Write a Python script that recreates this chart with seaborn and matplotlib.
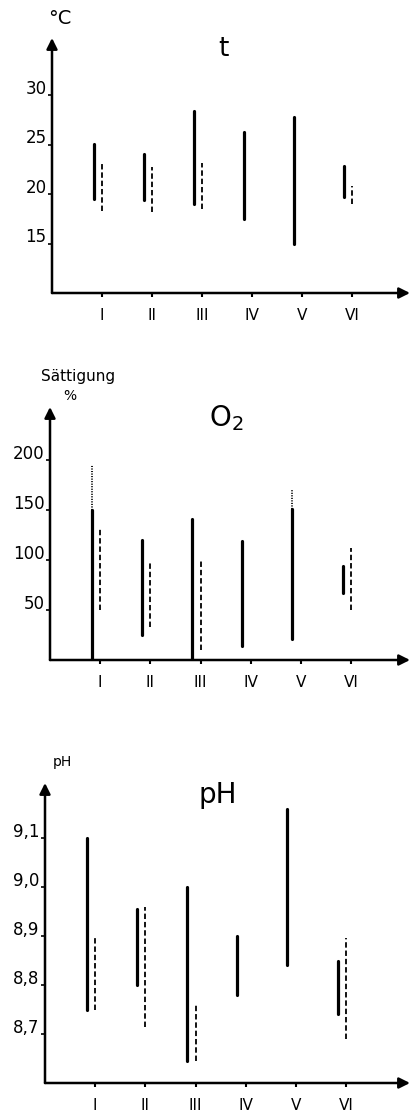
import numpy as np
import pandas as pd
import matplotlib
matplotlib.use("Agg")
import matplotlib.pyplot as plt
from matplotlib.transforms import ScaledTranslation
import seaborn as sns

# ---------------- data ----------------
categories = ["I", "II", "III", "IV", "V", "VI"]

# temperature (°C)
t_solid_low = [19.5, 19.4, 19.0, 17.5, 15.0, 19.7]
t_solid_high = [25.1, 24.0, 28.4, 26.3, 27.8, 22.8]
t_dash_low = [18.3, 18.2, 18.5, None, None, 19.0]
t_dash_high = [23.2, 22.7, 23.1, None, None, 20.8]
t_ticks = [15, 20, 25, 30]
t_ticklabels = ["15", "20", "25", "30"]

# O2 saturation (%)
o_solid_low = [0, 25, 0, 14, 21, 67]
o_solid_high = [150, 120, 141, 119, 151, 94]
o_dash_low = [50, 33, 10, None, None, 50]
o_dash_high = [131, 98, 100, None, None, 112]
o_dot_high = [195, None, None, None, 170, None]
o_ticks = [50, 100, 150, 200]
o_ticklabels = ["50", "100", "150", "200"]

# pH
p_solid_low = [8.75, 8.80, 8.645, 8.78, 8.84, 8.74]
p_solid_high = [9.10, 8.955, 9.00, 8.90, 9.16, 8.85]
p_dash_low = [8.75, 8.715, 8.645, None, None, 8.69]
p_dash_high = [8.90, 8.96, 8.76, None, None, 8.895]
p_ticks = [8.7, 8.8, 8.9, 9.0, 9.1]
p_ticklabels = ["8,7", "8,8", "8,9", "9,0", "9,1"]


def build_frame(solid_lo, solid_hi, dash_lo, dash_hi, dot_hi=None):
    rows = []
    seg = 0
    for i in range(len(categories)):
        xs = i + 1 - 0.17
        rows += [(xs, solid_lo[i], seg, "solid"), (xs, solid_hi[i], seg, "solid")]
        seg += 1
        if dash_lo[i] is not None:
            xd = i + 1 + 0.0
            rows += [(xd, dash_lo[i], seg, "dashed"), (xd, dash_hi[i], seg, "dashed")]
            seg += 1
        if dot_hi is not None and dot_hi[i] is not None:
            rows += [(xs, solid_hi[i], seg, "dotted"), (xs, dot_hi[i], seg, "dotted")]
            seg += 1
    return pd.DataFrame(rows, columns=["x", "y", "seg", "kind"])


sns.set_theme(style="white")
plt.rcParams["font.family"] = ["DejaVu Sans"]
plt.rcParams["text.color"] = "black"
plt.rcParams["xtick.color"] = "black"
plt.rcParams["ytick.color"] = "black"
plt.rcParams["axes.labelcolor"] = "black"

W, H = 412, 1115
fig = plt.figure(figsize=(W / 100, H / 100), dpi=100)


def px_axes(left, right, top, bottom):
    return fig.add_axes([left / W, 1 - bottom / H, (right - left) / W, (bottom - top) / H])


def style_axes(ax, xlim, ylim, ticks, ticklabels):
    ax.set_xlim(*xlim)
    ax.set_ylim(*ylim)
    for s in ax.spines.values():
        s.set_visible(False)
    ax.set_facecolor("none")
    ax.set_xticks(range(1, 7))
    ax.set_xticklabels(categories, fontsize=11, color="black")
    ax.set_yticks(ticks)
    ax.set_yticklabels(ticklabels, fontsize=12, color="black")
    ax.tick_params(axis="x", direction="out", length=3, width=1.5, pad=7.5, color="black", bottom=True)
    ax.tick_params(axis="y", direction="out", length=3, width=1.2, pad=1, color="black", left=True)
    for lab in ax.get_yticklabels():
        lab.set_transform(lab.get_transform() + ScaledTranslation(0, 6 / 72, fig.dpi_scale_trans))
    ax.set_xlabel("")
    ax.set_ylabel("")
    # axes with arrows
    ax.annotate("", xy=(1, 0), xytext=(0, 0), xycoords="axes fraction",
                arrowprops=dict(arrowstyle="-|>", lw=1.8, color="black", mutation_scale=16,
                                shrinkA=0, shrinkB=0), annotation_clip=False)
    ax.annotate("", xy=(0, 1), xytext=(0, 0), xycoords="axes fraction",
                arrowprops=dict(arrowstyle="-|>", lw=1.8, color="black", mutation_scale=16,
                                shrinkA=0, shrinkB=0), annotation_clip=False)


def draw(ax, df):
    sns.lineplot(data=df, x="x", y="y", units="seg", estimator=None, sort=False,
                 style="kind", size="kind",
                 dashes={"solid": "", "dashed": (3, 1.6), "dotted": (0.6, 0.8)},
                 sizes={"solid": 2.3, "dashed": 1.3, "dotted": 1.3},
                 color="black", legend=False, ax=ax)


# panel 1: temperature
ax1 = px_axes(52, 410, 38, 293)
draw(ax1, build_frame(t_solid_low, t_solid_high, t_dash_low, t_dash_high))
style_axes(ax1, (0, (410 - 52) / 50), (10, 10 + 255 / 9.9), t_ticks, t_ticklabels)
ax1.text(0.478, 0.955, "t", transform=ax1.transAxes, ha="center", va="center", fontsize=19)
fig.text(60 / W, 1 - 18 / H, "°C", ha="center", va="center", fontsize=14)

# panel 2: O2
ax2 = px_axes(50, 410, 407, 660)
draw(ax2, build_frame(o_solid_low, o_solid_high, o_dash_low, o_dash_high, o_dot_high))
style_axes(ax2, (0, (410 - 50) / 50.2), (0, 253), o_ticks, o_ticklabels)
ax2.text(0.49, 0.955, "O$_2$", transform=ax2.transAxes, ha="center", va="center", fontsize=20)
fig.text(78 / W, 1 - 377 / H, "Sättigung", ha="center", va="center", fontsize=11)
fig.text(70 / W, 1 - 396 / H, "%", ha="center", va="center", fontsize=10)

# panel 3: pH
ax3 = px_axes(45, 410, 783, 1083)
draw(ax3, build_frame(p_solid_low, p_solid_high, p_dash_low, p_dash_high))
style_axes(ax3, (0, (410 - 45) / 50.2), (8.6, 8.6 + 300 / 490), p_ticks, p_ticklabels)
ax3.text(0.474, 0.96, "pH", transform=ax3.transAxes, ha="center", va="center", fontsize=20)
fig.text(62 / W, 1 - 762 / H, "pH", ha="center", va="center", fontsize=10)

fig.savefig("out.png", dpi=100, facecolor="white")
